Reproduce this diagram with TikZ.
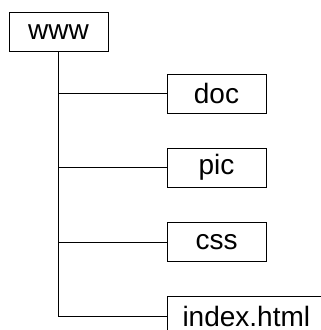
\documentclass[tikz,border=0pt]{standalone}
\usepackage{fontspec}
\setmainfont{Liberation Sans}
\usepackage{tikz}

\begin{document}
\begin{tikzpicture}[x=1pt, y=-1pt, line width=1pt,
	dirbox/.style={draw, minimum width=99pt, minimum height=39pt, inner sep=0pt, font=\fontsize{28}{32}\selectfont},
	filebox/.style={draw, anchor=west, minimum height=40pt, inner xsep=15pt, inner ysep=0pt, font=\fontsize{28}{32}\selectfont}]
	\useasboundingbox (0,0) rectangle (321,330);
	\clip (0,0) rectangle (321,330);
	
	\node[dirbox] (www) at (58.5,32) {www};
	
	\node[dirbox] (doc) at (216.5,93.5) {doc};
	\node[dirbox] (pic) at (216.5,167.5) {pic};
	\node[dirbox] (css) at (216.5,242) {css};
	\node[filebox] (index) at (167,316) {index.html};
	
	\draw (www.south) |- (doc.west);
	\draw (www.south) |- (pic.west);
	\draw (www.south) |- (css.west);
	\draw (www.south) |- (index.west);
\end{tikzpicture}
\end{document}
